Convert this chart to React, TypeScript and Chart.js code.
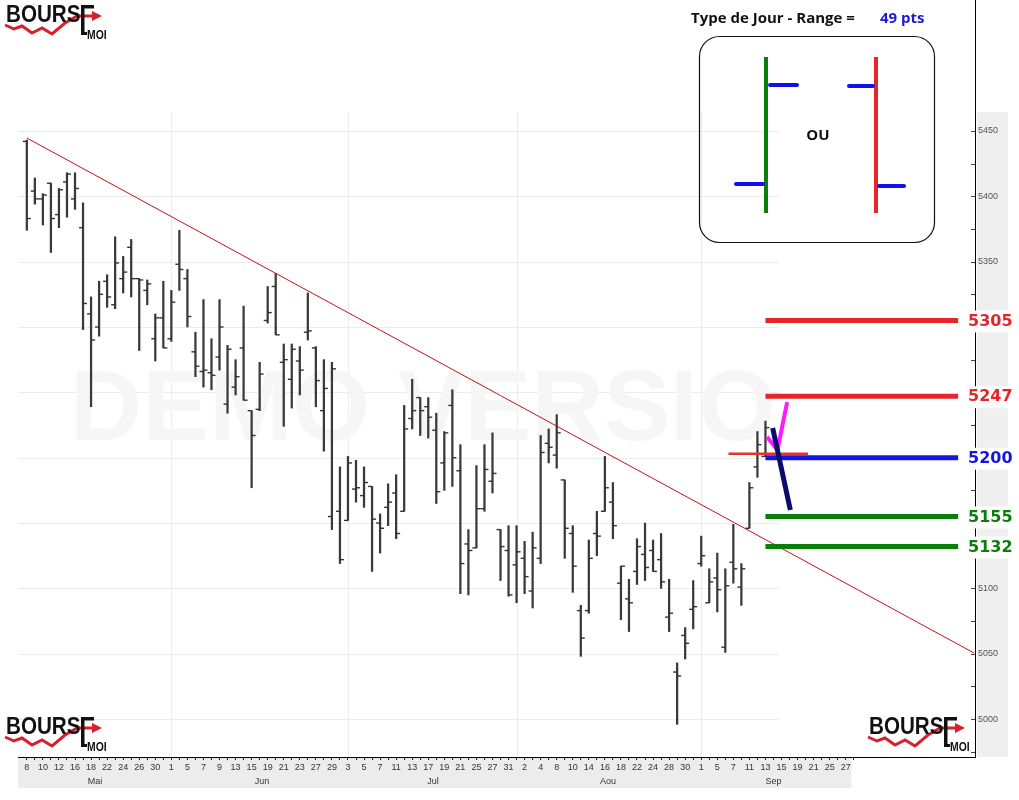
import { useEffect, useRef } from 'react';
import { Chart, registerables } from 'chart.js';

Chart.register(...registerables);

// Trading-day labels (one every two sessions) and months
const dayLabels = ['8','10','12','16','18','22','24','26','30','1','5','7','9','13','15','19','21','23','27','29','3','5','7','11','13','17','19','21','25','27','31','2','4','8','10','14','16','18','22','24','28','30','1','5','7','11','13','15','19','21','25','27'];
const monthNames = ['Mai', 'Jun', 'Jul', 'Aou', 'Sep'];
const monthLabelIdx = [8.5, 29.3, 50.6, 72.4, 93];
const monthStartIdx = [18, 40, 61, 84];

// OHLC daily bars
const highs = [5443,5414,5402,5410,5406,5418,5418,5395,5323,5335,5340,5369,5354,5367,5337,5336,5310,5335,5328,5374,5344,5296,5321,5291,5321,5286,5275,5316,5236,5273,5331,5341,5287,5287,5285,5326,5285,5275,5273,5193,5201,5198,5193,5178,5157,5180,5187,5240,5260,5246,5246,5234,5220,5252,5210,5145,5194,5210,5219,5145,5148,5148,5136,5143,5217,5222,5233,5183,5148,5087,5137,5159,5201,5181,5117,5107,5138,5150,5137,5142,5107,5043,5070,5106,5140,5115,5127,5115,5149,5119,5181,5220,5228];
const lows = [5374,5394,5378,5357,5376,5384,5390,5298,5239,5293,5315,5314,5326,5323,5282,5317,5274,5284,5289,5328,5300,5262,5254,5252,5267,5234,5248,5244,5177,5236,5303,5294,5224,5238,5248,5290,5239,5205,5145,5119,5152,5166,5162,5113,5127,5148,5138,5159,5222,5217,5215,5165,5175,5178,5096,5095,5131,5159,5173,5106,5094,5089,5096,5085,5119,5196,5192,5123,5097,5048,5081,5125,5159,5138,5076,5067,5103,5106,5113,5100,5067,4996,5046,5069,5117,5089,5082,5051,5104,5087,5146,5185,5201];
const opens = [5442,5404,5398,5410,5386,5411,5398,5376,5310,5300,5335,5317,5337,5361,5337,5328,5291,5307,5291,5348,5337,5281,5266,5265,5277,5241,5254,5284,5236,5237,5305,5331,5273,5260,5274,5296,5284,5236,5155,5159,5152,5176,5171,5178,5150,5162,5173,5159,5230,5246,5239,5221,5196,5240,5190,5134,5131,5161,5182,5145,5129,5118,5123,5098,5123,5211,5202,5183,5142,5083,5083,5142,5159,5166,5104,5092,5113,5126,5129,5122,5078,5036,5064,5084,5119,5089,5108,5055,5120,5101,5146,5193,5201];
const closes = [5383,5398,5401,5383,5405,5417,5406,5318,5290,5325,5323,5349,5342,5337,5336,5333,5307,5284,5319,5344,5308,5270,5267,5263,5300,5283,5262,5244,5217,5264,5311,5294,5275,5283,5267,5297,5259,5253,5268,5122,5196,5177,5181,5153,5146,5166,5142,5222,5236,5236,5231,5174,5219,5200,5119,5129,5161,5191,5188,5132,5095,5128,5109,5131,5204,5208,5219,5146,5117,5062,5123,5140,5177,5148,5117,5089,5132,5116,5113,5105,5081,5033,5058,5086,5125,5105,5099,5102,5115,5115,5177,5210,5223];

// Annotations (index, value)
const trendIdx = [0, 118];
const trendValues = [5444.6, 5050.5];
const levels = [5305, 5247, 5200, 5155, 5132];
const levelColors = ['#e4262b', '#e4262b', '#1414e6', '#0b7d0b', '#0b7d0b'];
const levelSpan = [92, 116];
const pivotIdx = [87.4, 97.3];
const pivotValue = 5203;
const magentaIdx = [94.7, 93.5, 92.2];
const magentaValues = [5242.6, 5205.9, 5215.8];
const navyIdx = [92.9, 95.1];
const navyValues = [5222.7, 5160];
const rangeText = '49 pts';

const AX_FONT = '"Liberation Sans", Arial, sans-serif';

function drawLogo(ctx: CanvasRenderingContext2D, ox: number, oy: number) {
  ctx.save();
  ctx.strokeStyle = '#d6202a';
  ctx.lineWidth = 3;
  ctx.lineJoin = 'miter';
  const pts = [[0, 21], [9, 25], [17, 22], [27, 29], [37, 24], [47, 30], [60, 19], [72, 12], [90, 12]];
  ctx.beginPath();
  pts.forEach(([px, py], k) => (k ? ctx.lineTo(ox + px, oy + py) : ctx.moveTo(ox + px, oy + py)));
  ctx.stroke();
  ctx.fillStyle = '#d6202a';
  ctx.beginPath();
  ctx.moveTo(ox + 87, oy + 7);
  ctx.lineTo(ox + 97, oy + 12);
  ctx.lineTo(ox + 87, oy + 17);
  ctx.closePath();
  ctx.fill();
  ctx.fillStyle = '#111';
  ctx.save();
  ctx.translate(ox + 1, oy + 18);
  ctx.scale(0.86, 1);
  ctx.font = 'bold 24px ' + AX_FONT;
  ctx.textBaseline = 'alphabetic';
  ctx.textAlign = 'left';
  ctx.fillText('BOURS', 0, 0);
  ctx.restore();
  ctx.fillRect(ox + 76, oy + 1, 3.5, 30);
  ctx.fillRect(ox + 76, oy + 1, 13, 3.5);
  ctx.fillRect(ox + 76, oy + 28, 6, 3);
  ctx.save();
  ctx.translate(ox + 82, oy + 31);
  ctx.scale(0.8, 1);
  ctx.font = 'bold 13px ' + AX_FONT;
  ctx.fillText('MOI', 0, 0);
  ctx.restore();
  ctx.restore();
}

function line(ctx: CanvasRenderingContext2D, x1: number, y1: number, x2: number, y2: number) {
  ctx.beginPath();
  ctx.moveTo(x1, y1);
  ctx.lineTo(x2, y2);
  ctx.stroke();
}

const decorPlugin = {
  id: 'decor',
  beforeDraw(chart: any) {
    const { ctx, chartArea: a, scales } = chart;
    const x = scales.x;
    const y = scales.y;
    ctx.save();
    ctx.fillStyle = '#ffffff';
    ctx.fillRect(0, 0, chart.width, chart.height);
    // band under the date labels
    ctx.fillStyle = '#ececec';
    ctx.fillRect(a.left, a.bottom, x.getPixelForValue(dayLabels.length * 2 - 1.3) - a.left, 31);
    // strip behind price labels
    ctx.fillStyle = '#efefef';
    ctx.fillRect(a.right + 2, a.top, 31, a.bottom - a.top);
    // grid
    const gridRight = x.getPixelForValue(93.6);
    ctx.strokeStyle = '#ececec';
    ctx.lineWidth = 1;
    for (let v = 5000; v <= y.max; v += 50) {
      const py = Math.round(y.getPixelForValue(v)) + 0.5;
      line(ctx, a.left, py, gridRight, py);
    }
    for (const m of monthStartIdx) {
      const px = Math.round(x.getPixelForValue(m)) + 0.5;
      line(ctx, px, a.top, px, a.bottom);
    }
    // watermark
    ctx.save();
    ctx.beginPath();
    ctx.rect(a.left, a.top, gridRight - a.left, a.bottom - a.top);
    ctx.clip();
    ctx.fillStyle = '#f6f6f6';
    ctx.font = 'bold 100px ' + AX_FONT;
    ctx.textBaseline = 'alphabetic';
    ctx.fillText('DEMO VERSION', 70, 440);
    ctx.restore();
    ctx.restore();
  },
  afterDraw(chart: any) {
    const { ctx, chartArea: a, scales } = chart;
    const y = scales.y;
    ctx.save();
    // inward price ticks
    ctx.strokeStyle = '#444';
    ctx.lineWidth = 1;
    for (const t of y.ticks) {
      const py = Math.round(y.getPixelForValue(t.value)) + 0.5;
      line(ctx, a.right - 4, py, a.right, py);
    }
    // axis line continues to the top
    ctx.strokeStyle = '#000';
    line(ctx, Math.round(a.right) + 0.5, 0, Math.round(a.right) + 0.5, a.top);

    // level labels
    ctx.font = 'bold 16px "DejaVu Sans", Verdana, sans-serif';
    ctx.textBaseline = 'middle';
    ctx.textAlign = 'left';
    levels.forEach((v, k) => {
      const py = y.getPixelForValue(v) + 1;
      ctx.fillStyle = '#ffffff';
      ctx.fillRect(a.right - 12, py - 11, 52, 22);
      ctx.fillStyle = levelColors[k];
      ctx.fillText(String(v), a.right - 7, py);
    });

    // title
    ctx.textBaseline = 'alphabetic';
    ctx.fillStyle = '#111';
    ctx.font = 'bold 15px "Open Sans", sans-serif';
    ctx.fillText('Type de Jour - Range =', 691, 23);
    ctx.fillStyle = '#1a1ad6';
    ctx.fillText(rangeText, 880, 23);

    // pictogram box
    ctx.strokeStyle = '#111';
    ctx.lineWidth = 1.2;
    ctx.beginPath();
    ctx.roundRect(699.5, 36.5, 235, 206, 20);
    ctx.stroke();
    ctx.lineWidth = 4;
    ctx.strokeStyle = '#0b7d0b';
    line(ctx, 766, 57, 766, 213);
    ctx.strokeStyle = '#e4262b';
    line(ctx, 876, 57, 876, 213);
    ctx.strokeStyle = '#1010f0';
    ctx.lineCap = 'round';
    line(ctx, 770, 85, 797, 85);
    line(ctx, 736, 184, 763, 184);
    line(ctx, 849, 86, 873, 86);
    line(ctx, 879, 186, 904, 186);
    ctx.lineCap = 'butt';
    ctx.fillStyle = '#111';
    ctx.font = 'bold 15px "Open Sans", sans-serif';
    ctx.textAlign = 'center';
    ctx.textBaseline = 'middle';
    ctx.fillText('OU', 818, 136);
    ctx.textAlign = 'left';

    // logos
    drawLogo(ctx, 5, 4);
    drawLogo(ctx, 5, 716);
    drawLogo(ctx, 868, 716);
    ctx.restore();
  },
};

export default function App() {
  const ref = useRef<HTMLCanvasElement>(null);
  useEffect(() => {
    const canvas = ref.current;
    if (!canvas) return;
    const dayTicks = Array.from({ length: dayLabels.length * 2 }, (_, i) => i);
    const lineDs = (xs: number[], ys: number[], color: string, width: number, order: number) => ({
      type: 'line' as const,
      data: xs.map((xv, k) => ({ x: xv, y: ys[k] })),
      borderColor: color,
      borderWidth: width,
      pointRadius: 0,
      fill: false,
      tension: 0,
      order,
      borderCapStyle: 'butt' as const,
      borderJoinStyle: 'round' as const,
    });
    const chart = new Chart(canvas, {
      type: 'bar',
      data: {
        datasets: [
          lineDs(navyIdx, navyValues, '#0c0c6c', 5, 0),
          lineDs(magentaIdx, magentaValues, '#ff1aff', 4, 1),
          lineDs(pivotIdx, [pivotValue, pivotValue], '#e3322f', 2.5, 2),
          ...levels.map((v, k) => lineDs(levelSpan, [v, v], levelColors[k], 5, 3)),
          lineDs(trendIdx, trendValues, '#c0141c', 1, 4),
          {
            type: 'scatter',
            data: opens.map((v, i) => ({ x: i, y: v })),
            pointStyle: 'dash',
            pointRotation: 180,
            pointRadius: 4,
            pointBorderWidth: 1.4,
            pointBorderColor: '#333',
            pointBackgroundColor: '#333',
            order: 5,
          },
          {
            type: 'scatter',
            data: closes.map((v, i) => ({ x: i, y: v })),
            pointStyle: 'dash',
            pointRotation: 0,
            pointRadius: 4,
            pointBorderWidth: 1.4,
            pointBorderColor: '#333',
            pointBackgroundColor: '#333',
            order: 5,
          },
          {
            type: 'bar',
            data: highs.map((h, i) => ({ x: i, y: [lows[i], h] })),
            backgroundColor: '#3a3a3a',
            borderWidth: 0,
            barThickness: 1.6,
            order: 6,
          },
        ] as any,
      },
      options: {
        responsive: false,
        animation: false,
        events: [],
        layout: { padding: { left: 18, top: 112, right: 0, bottom: 11 } },
        plugins: {
          legend: { display: false },
          tooltip: { enabled: false },
        },
        scales: {
          x: {
            type: 'linear',
            position: 'bottom',
            min: -1.1,
            max: 118.1,
            offset: false,
            weight: 0,
            grid: { display: true, drawOnChartArea: false, drawTicks: true, tickLength: 3, tickColor: '#222', offset: false },
            border: { display: true, color: '#000', width: 1 },
            afterBuildTicks: (s: any) => {
              s.ticks = dayTicks.map((v) => ({ value: v }));
            },
            ticks: {
              autoSkip: false,
              maxRotation: 0,
              minRotation: 0,
              padding: 2,
              color: '#333',
              font: { family: AX_FONT, size: 9 },
              callback: (v: any) => (v % 2 === 0 ? dayLabels[v / 2] ?? '' : ''),
            },
            afterFit: (s: any) => {
              s.height = 16;
            },
          },
          xm: {
            type: 'linear',
            position: 'bottom',
            min: -1.1,
            max: 118.1,
            offset: false,
            weight: 1,
            grid: { display: false, drawTicks: false },
            border: { display: false },
            afterBuildTicks: (s: any) => {
              s.ticks = monthLabelIdx.map((v) => ({ value: v }));
            },
            ticks: {
              autoSkip: false,
              maxRotation: 0,
              minRotation: 0,
              padding: 3,
              color: '#333',
              font: { family: AX_FONT, size: 9 },
              callback: (_v: any, i: number) => monthNames[i],
            },
            afterFit: (s: any) => {
              s.height = 16;
            },
          },
          y: {
            type: 'linear',
            position: 'right',
            min: 4971,
            max: 5464.5,
            grid: { display: true, drawOnChartArea: false, drawTicks: false },
            border: { display: true, color: '#000' },
            ticks: {
              stepSize: 25,
              includeBounds: false,
              padding: 3,
              color: '#555',
              font: { family: AX_FONT, size: 9 },
              callback: (v: any) => (v % 50 === 0 ? String(v) : ''),
            },
            afterFit: (s: any) => {
              s.width = 44;
            },
          },
        } as any,
      },
      plugins: [decorPlugin],
    });
    return () => chart.destroy();
  }, []);
  return (
    <div style={{ position: 'fixed', left: 0, top: 0, width: 1019, height: 800, background: '#fff' }}>
      <canvas ref={ref} width={1019} height={800} style={{ display: 'block', width: 1019, height: 800 }} />
    </div>
  );
}
